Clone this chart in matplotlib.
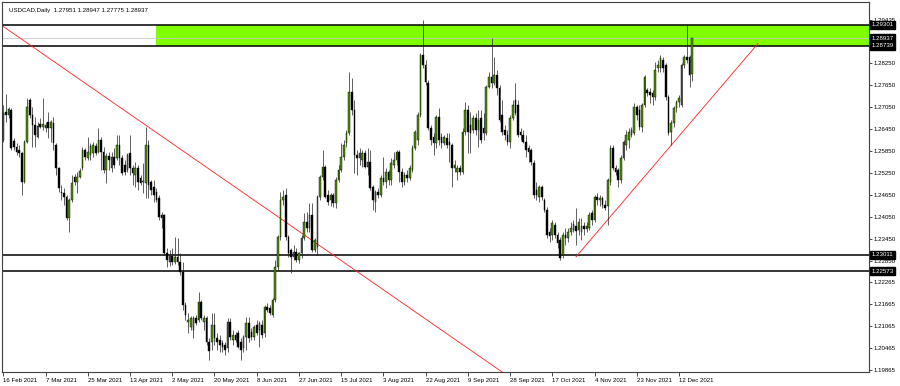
import numpy as np
import pandas as pd
import matplotlib
matplotlib.use('Agg')
import matplotlib.pyplot as plt
import matplotlib.transforms as mtransforms

plt.rcParams['font.family'] = ['Liberation Sans', 'DejaVu Sans']

# daily OHLC USDCAD, 16 Feb 2021 -> 17 Dec 2021 (broker has Sunday bars, no Saturdays)
opens = [
    1.2616, 1.2692, 1.2684, 1.2698, 1.2613, 1.2596, 1.2588, 1.2580, 1.2501, 1.2610,
    1.2725, 1.2684, 1.2657, 1.2624, 1.2659, 1.2651, 1.2648, 1.2665, 1.2648, 1.2662,
    1.2602, 1.2539, 1.2474, 1.2471, 1.2460, 1.2403, 1.2452, 1.2515, 1.2501, 1.2515,
    1.2539, 1.2588, 1.2566, 1.2575, 1.2580, 1.2599, 1.2583, 1.2616, 1.2583, 1.2534,
    1.2572, 1.2539, 1.2569, 1.2566, 1.2602, 1.2566, 1.2547, 1.2534, 1.2580, 1.2539,
    1.2520, 1.2539, 1.2512, 1.2501, 1.2498, 1.2602, 1.2501, 1.2487, 1.2474, 1.2457,
    1.2411, 1.2411, 1.2307, 1.2282, 1.2299, 1.2282, 1.2296, 1.2282, 1.2255, 1.2165,
    1.2118, 1.2105, 1.2097, 1.2129, 1.2124, 1.2173, 1.2118, 1.2129, 1.2064, 1.2064,
    1.2110, 1.2075, 1.2069, 1.2061, 1.2055, 1.2047, 1.2118, 1.2069, 1.2083, 1.2088,
    1.2064, 1.2047, 1.2078, 1.2115, 1.2091, 1.2078, 1.2110, 1.2097, 1.2110, 1.2088,
    1.2159, 1.2156, 1.2138, 1.2178, 1.2269, 1.2351, 1.2452, 1.2466, 1.2351, 1.2315,
    1.2296, 1.2310, 1.2288, 1.2307, 1.2348, 1.2392, 1.2375, 1.2411, 1.2315, 1.2324,
    1.2460, 1.2515, 1.2542, 1.2466, 1.2452, 1.2466, 1.2444, 1.2506, 1.2534, 1.2569,
    1.2607, 1.2635, 1.2747, 1.2698, 1.2575, 1.2566, 1.2561, 1.2580, 1.2542, 1.2555,
    1.2487, 1.2446, 1.2474, 1.2466, 1.2512, 1.2501, 1.2528, 1.2506, 1.2547, 1.2561,
    1.2583, 1.2528, 1.2501, 1.2520, 1.2512, 1.2534, 1.2594, 1.2616, 1.2684, 1.2848,
    1.2821, 1.2772, 1.2648, 1.2624, 1.2607, 1.2678, 1.2624, 1.2607, 1.2621, 1.2610,
    1.2602, 1.2539, 1.2528, 1.2539, 1.2528, 1.2637, 1.2698, 1.2657, 1.2643, 1.2676,
    1.2643, 1.2676, 1.2648, 1.2635, 1.2761, 1.2788, 1.2772, 1.2793, 1.2758, 1.2684,
    1.2643, 1.2629, 1.2610, 1.2676, 1.2725, 1.2711, 1.2637, 1.2629, 1.2610, 1.2594,
    1.2588, 1.2553, 1.2479, 1.2460, 1.2487, 1.2452, 1.2425, 1.2364, 1.2356, 1.2384,
    1.2356, 1.2343, 1.2302, 1.2356, 1.2348, 1.2364, 1.2370, 1.2381, 1.2370, 1.2364,
    1.2381, 1.2373, 1.2375, 1.2416, 1.2397, 1.2460, 1.2452, 1.2457, 1.2438, 1.2435,
    1.2501, 1.2594, 1.2539, 1.2534, 1.2506, 1.2566, 1.2602, 1.2616, 1.2629, 1.2635,
    1.2706, 1.2698, 1.2651, 1.2711, 1.2752, 1.2747, 1.2744, 1.2733, 1.2813, 1.2813,
    1.2834, 1.2821, 1.2733, 1.2637, 1.2662, 1.2703, 1.2720, 1.2711, 1.2821, 1.2843,
    1.2843, 1.27951,
]
highs = [
    1.2711, 1.2741, 1.2706, 1.2703, 1.2621, 1.2607, 1.2602, 1.2583, 1.2616, 1.2730,
    1.2730, 1.2706, 1.2678, 1.2665, 1.2676, 1.2730, 1.2665, 1.2692, 1.2670, 1.2678,
    1.2607, 1.2542, 1.2493, 1.2485, 1.2466, 1.2457, 1.2520, 1.2523, 1.2528, 1.2539,
    1.2596, 1.2594, 1.2624, 1.2607, 1.2610, 1.2607, 1.2648, 1.2624, 1.2596, 1.2580,
    1.2583, 1.2583, 1.2594, 1.2629, 1.2629, 1.2575, 1.2561, 1.2580, 1.2629, 1.2547,
    1.2555, 1.2547, 1.2520, 1.2553, 1.2651, 1.2616, 1.2506, 1.2506, 1.2485, 1.2466,
    1.2419, 1.2414, 1.2321, 1.2315, 1.2321, 1.2351, 1.2348, 1.2307, 1.2282, 1.2173,
    1.2143, 1.2135, 1.2135, 1.2138, 1.2200, 1.2178, 1.2138, 1.2135, 1.2075, 1.2143,
    1.2143, 1.2088, 1.2083, 1.2069, 1.2064, 1.2129, 1.2129, 1.2097, 1.2091, 1.2097,
    1.2075, 1.2083, 1.2132, 1.2132, 1.2102, 1.2110, 1.2124, 1.2121, 1.2124, 1.2165,
    1.2170, 1.2165, 1.2183, 1.2288, 1.2356, 1.2474, 1.2479, 1.2485, 1.2356, 1.2321,
    1.2329, 1.2321, 1.2310, 1.2356, 1.2416, 1.2419, 1.2444, 1.2444, 1.2348, 1.2466,
    1.2520, 1.2588, 1.2547, 1.2479, 1.2471, 1.2471, 1.2515, 1.2547, 1.2607, 1.2616,
    1.2643, 1.2802, 1.2785, 1.2725, 1.2588, 1.2594, 1.2588, 1.2588, 1.2594, 1.2588,
    1.2493, 1.2479, 1.2485, 1.2520, 1.2569, 1.2539, 1.2534, 1.2566, 1.2583, 1.2588,
    1.2588, 1.2539, 1.2528, 1.2534, 1.2547, 1.2602, 1.2643, 1.2692, 1.2854, 1.2944,
    1.2834, 1.2780, 1.2657, 1.2635, 1.2684, 1.2703, 1.2635, 1.2629, 1.2635, 1.2635,
    1.2607, 1.2561, 1.2547, 1.2547, 1.2648, 1.2720, 1.2711, 1.2692, 1.2684, 1.2689,
    1.2698, 1.2698, 1.2689, 1.2766, 1.2802, 1.2895, 1.2843, 1.2807, 1.2766, 1.2725,
    1.2657, 1.2643, 1.2684, 1.2725, 1.2772, 1.2725, 1.2648, 1.2643, 1.2629, 1.2602,
    1.2594, 1.2561, 1.2501, 1.2493, 1.2493, 1.2457, 1.2433, 1.2375, 1.2397, 1.2392,
    1.2364, 1.2351, 1.2364, 1.2375, 1.2375, 1.2392, 1.2397, 1.2430, 1.2403, 1.2403,
    1.2392, 1.2392, 1.2419, 1.2425, 1.2466, 1.2471, 1.2466, 1.2463, 1.2452, 1.2512,
    1.2602, 1.2602, 1.2547, 1.2539, 1.2575, 1.2616, 1.2643, 1.2648, 1.2651, 1.2717,
    1.2711, 1.2711, 1.2717, 1.2793, 1.2758, 1.2758, 1.2752, 1.2829, 1.2834, 1.2848,
    1.2843, 1.2826, 1.2739, 1.2670, 1.2709, 1.2725, 1.2739, 1.2826, 1.2848, 1.2930,
    1.2848, 1.28947,
]
lows = [
    1.2610, 1.2665, 1.2676, 1.2588, 1.2588, 1.2575, 1.2569, 1.2466, 1.2498, 1.2607,
    1.2676, 1.2596, 1.2596, 1.2621, 1.2648, 1.2643, 1.2637, 1.2621, 1.2610, 1.2588,
    1.2520, 1.2474, 1.2452, 1.2438, 1.2397, 1.2364, 1.2446, 1.2493, 1.2471, 1.2512,
    1.2534, 1.2561, 1.2561, 1.2561, 1.2569, 1.2575, 1.2580, 1.2534, 1.2526, 1.2498,
    1.2534, 1.2528, 1.2539, 1.2561, 1.2547, 1.2520, 1.2520, 1.2528, 1.2520, 1.2493,
    1.2487, 1.2479, 1.2493, 1.2471, 1.2457, 1.2457, 1.2466, 1.2446, 1.2446, 1.2397,
    1.2375, 1.2302, 1.2269, 1.2271, 1.2274, 1.2277, 1.2274, 1.2247, 1.2151, 1.2124,
    1.2088, 1.2097, 1.2075, 1.2110, 1.2118, 1.2124, 1.2097, 1.2055, 1.2014, 1.2041,
    1.2055, 1.2041, 1.2036, 1.2036, 1.2028, 1.2036, 1.2069, 1.2055, 1.2064, 1.2047,
    1.2014, 1.2036, 1.2041, 1.2064, 1.2069, 1.2069, 1.2083, 1.2050, 1.2075, 1.2078,
    1.2145, 1.2138, 1.2132, 1.2173, 1.2261, 1.2343, 1.2438, 1.2343, 1.2296, 1.2252,
    1.2288, 1.2282, 1.2280, 1.2293, 1.2343, 1.2364, 1.2364, 1.2310, 1.2310, 1.2302,
    1.2452, 1.2506, 1.2457, 1.2438, 1.2435, 1.2433, 1.2430, 1.2501, 1.2528, 1.2561,
    1.2596, 1.2629, 1.2684, 1.2526, 1.2520, 1.2547, 1.2542, 1.2539, 1.2520, 1.2479,
    1.2425, 1.2419, 1.2457, 1.2460, 1.2493, 1.2485, 1.2493, 1.2493, 1.2539, 1.2547,
    1.2501, 1.2487, 1.2493, 1.2501, 1.2506, 1.2528, 1.2588, 1.2602, 1.2678, 1.2813,
    1.2766, 1.2643, 1.2602, 1.2575, 1.2594, 1.2602, 1.2594, 1.2602, 1.2594, 1.2555,
    1.2487, 1.2528, 1.2506, 1.2520, 1.2523, 1.2629, 1.2580, 1.2580, 1.2635, 1.2629,
    1.2596, 1.2607, 1.2616, 1.2629, 1.2758, 1.2758, 1.2766, 1.2739, 1.2665, 1.2629,
    1.2616, 1.2602, 1.2594, 1.2670, 1.2684, 1.2624, 1.2616, 1.2607, 1.2569, 1.2555,
    1.2547, 1.2457, 1.2452, 1.2446, 1.2452, 1.2419, 1.2348, 1.2337, 1.2343, 1.2348,
    1.2321, 1.2288, 1.2293, 1.2329, 1.2337, 1.2356, 1.2364, 1.2329, 1.2356, 1.2343,
    1.2356, 1.2364, 1.2370, 1.2384, 1.2392, 1.2438, 1.2435, 1.2430, 1.2425, 1.2384,
    1.2493, 1.2534, 1.2520, 1.2487, 1.2498, 1.2561, 1.2588, 1.2594, 1.2624, 1.2629,
    1.2670, 1.2643, 1.2637, 1.2706, 1.2736, 1.2717, 1.2711, 1.2725, 1.2802, 1.2802,
    1.2802, 1.2725, 1.2629, 1.2602, 1.2651, 1.2692, 1.2706, 1.2706, 1.2813, 1.2826,
    1.2761, 1.27775,
]
closes = [
    1.2689, 1.2684, 1.2700, 1.2594, 1.2596, 1.2583, 1.2580, 1.2501, 1.2610, 1.2706,
    1.2684, 1.2657, 1.2629, 1.2654, 1.2651, 1.2659, 1.2657, 1.2648, 1.2665, 1.2607,
    1.2539, 1.2485, 1.2471, 1.2460, 1.2403, 1.2452, 1.2498, 1.2501, 1.2515, 1.2531,
    1.2588, 1.2569, 1.2583, 1.2599, 1.2602, 1.2580, 1.2616, 1.2583, 1.2534, 1.2572,
    1.2561, 1.2569, 1.2547, 1.2602, 1.2566, 1.2526, 1.2528, 1.2575, 1.2539, 1.2526,
    1.2539, 1.2501, 1.2498, 1.2504, 1.2602, 1.2493, 1.2479, 1.2466, 1.2452, 1.2405,
    1.2403, 1.2307, 1.2288, 1.2299, 1.2282, 1.2296, 1.2282, 1.2255, 1.2165, 1.2138,
    1.2124, 1.2129, 1.2129, 1.2115, 1.2173, 1.2129, 1.2129, 1.2064, 1.2039, 1.2110,
    1.2075, 1.2064, 1.2055, 1.2050, 1.2041, 1.2118, 1.2078, 1.2083, 1.2069, 1.2050,
    1.2041, 1.2078, 1.2115, 1.2075, 1.2078, 1.2105, 1.2088, 1.2115, 1.2083, 1.2159,
    1.2151, 1.2143, 1.2178, 1.2269, 1.2351, 1.2452, 1.2460, 1.2351, 1.2307, 1.2296,
    1.2310, 1.2288, 1.2307, 1.2348, 1.2392, 1.2375, 1.2411, 1.2315, 1.2343, 1.2460,
    1.2515, 1.2542, 1.2460, 1.2446, 1.2466, 1.2444, 1.2506, 1.2534, 1.2569, 1.2602,
    1.2635, 1.2747, 1.2698, 1.2575, 1.2566, 1.2580, 1.2580, 1.2542, 1.2555, 1.2485,
    1.2452, 1.2474, 1.2466, 1.2512, 1.2501, 1.2528, 1.2506, 1.2553, 1.2561, 1.2583,
    1.2528, 1.2501, 1.2520, 1.2512, 1.2539, 1.2594, 1.2637, 1.2684, 1.2848, 1.2821,
    1.2774, 1.2648, 1.2616, 1.2607, 1.2678, 1.2616, 1.2607, 1.2624, 1.2602, 1.2602,
    1.2539, 1.2547, 1.2539, 1.2528, 1.2637, 1.2698, 1.2637, 1.2635, 1.2676, 1.2643,
    1.2670, 1.2616, 1.2635, 1.2761, 1.2788, 1.2772, 1.2793, 1.2758, 1.2670, 1.2637,
    1.2629, 1.2610, 1.2676, 1.2711, 1.2689, 1.2629, 1.2629, 1.2610, 1.2588, 1.2583,
    1.2555, 1.2466, 1.2466, 1.2487, 1.2460, 1.2425, 1.2356, 1.2354, 1.2389, 1.2356,
    1.2335, 1.2293, 1.2356, 1.2348, 1.2364, 1.2375, 1.2386, 1.2367, 1.2392, 1.2381,
    1.2373, 1.2381, 1.2411, 1.2397, 1.2460, 1.2452, 1.2457, 1.2438, 1.2430, 1.2506,
    1.2594, 1.2539, 1.2528, 1.2506, 1.2566, 1.2610, 1.2629, 1.2637, 1.2643, 1.2706,
    1.2684, 1.2651, 1.2711, 1.2788, 1.2744, 1.2739, 1.2733, 1.2807, 1.2821, 1.2840,
    1.2813, 1.2733, 1.2635, 1.2662, 1.2703, 1.2720, 1.2730, 1.2821, 1.2843, 1.2834,
    1.2793, 1.28937,
]

# horizontal levels and zone
zone_low, zone_high = 1.28739, 1.29301
zone_start_bar = 58
support_levels = [1.23011, 1.22573]
last_price = 1.28937
# trend lines (bar index, price)
trend_down_x = [0, 189]
trend_down_y = [1.2926, 1.1981]
trend_up_x = [217, 286]
trend_up_y = [1.2296, 1.2880]

price_ticks = [1.29435, 1.28250, 1.27650, 1.27050, 1.26450, 1.25850, 1.25250, 1.24650,
               1.24050, 1.23450, 1.22850, 1.22265, 1.21665, 1.21065, 1.20465, 1.19865]
tag_prices = [1.29301, 1.28937, 1.28739, 1.23011, 1.22573]

o = np.array(opens); h = np.array(highs); l = np.array(lows); c = np.array(closes)
n = len(c)
x = np.arange(n)

# bar dates (Mon-Fri + Sunday)
days = pd.date_range('2021-02-16', '2022-03-31', freq='D')
days = days[days.dayofweek != 5]
date_idx = np.arange(0, 257, 16)
date_labels = [f"{days[i].day} {days[i].strftime('%b %Y')}" for i in date_idx]

fig = plt.figure(figsize=(9, 3.86), dpi=100)
ax = fig.add_axes([2/900, 14/386, 867/900, 370/386])
ax.set_xlim(-0.5, 328)
ax.set_ylim(1.19811, 1.2993)

# zone
ax.fill_between([zone_start_bar, 400], zone_low, zone_high, color='#80ff00', lw=0, zorder=1)
ax.axhline(zone_high, color='black', lw=1.1, zorder=2)
ax.axhline(zone_low, color='black', lw=1.1, zorder=2)
for lev in support_levels:
    ax.axhline(lev, color='black', lw=1.1, zorder=2)
ax.axhline(last_price, color='#c8c8c8', lw=0.6, zorder=1.5)

# trend lines
for tx, ty in [(trend_down_x, trend_down_y), (trend_up_x, trend_up_y)]:
    ax.plot(tx, ty, color='#ff2020', lw=0.6, zorder=2.2)

# candles
ax.vlines(x, l, h, color='#202020', lw=0.5, zorder=3)
bull = c >= o
body_lo = np.minimum(o, c)
body_h = np.maximum(np.abs(c - o), 0.00004)
ax.bar(x[bull], body_h[bull], bottom=body_lo[bull], width=0.62,
       color='#4c9400', edgecolor='black', linewidth=0.3, zorder=4)
ax.bar(x[~bull], body_h[~bull], bottom=body_lo[~bull], width=0.62,
       color='black', edgecolor='black', linewidth=0.3, zorder=4)

# axes styling
for s in ['top', 'left', 'right', 'bottom']:
    ax.spines[s].set_linewidth(0.8)
    ax.spines[s].set_color('#404040')
ax.yaxis.tick_right()
ax.set_yticks(price_ticks)
ax.set_yticklabels([f'{v:.5f}' for v in price_ticks])
ax.tick_params(axis='y', length=2, width=0.5, pad=1.5, labelsize=4.4)
ax.set_xticks(date_idx)
ax.set_xticklabels(date_labels, ha='left')
ax.tick_params(axis='x', length=3, width=0.5, pad=1.0, labelsize=4.4)

# price tags on the right
trans = mtransforms.blended_transform_factory(ax.transAxes, ax.transData)
for p in tag_prices:
    ax.text(1.003, p, f'{p:.5f}', transform=trans, ha='left', va='center',
            fontsize=4.4, color='white', clip_on=False, zorder=10,
            bbox=dict(boxstyle='square,pad=0.25', fc='black', ec='black'))

ax.text(0.008, 0.985, 'USDCAD,Daily  1.27951 1.28947 1.27775 1.28937', transform=ax.transAxes,
        ha='left', va='top', fontsize=4.4, color='black', zorder=10)

fig.savefig('out.png', dpi=100)
